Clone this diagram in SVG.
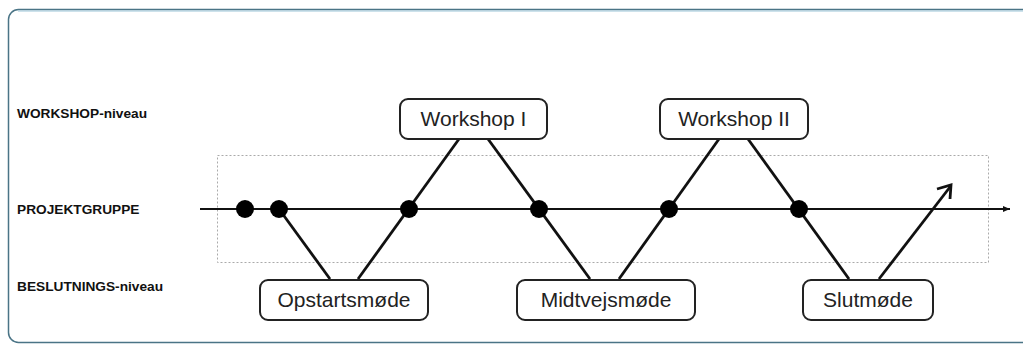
<svg xmlns="http://www.w3.org/2000/svg" width="1023" height="345" viewBox="0 0 1023 345">
<style>
.lvl{font-family:"Liberation Sans",Arial,sans-serif;font-weight:bold;font-size:13.7px;fill:#111}
.nb{fill:#fff;stroke:#222;stroke-width:2}
.nt{font-family:"Liberation Sans",Arial,sans-serif;font-size:21px;fill:#222;text-anchor:middle}
.diag{stroke:#111;stroke-width:2.8;fill:none;stroke-linecap:butt}
.dot{fill:#000}
</style>
<defs>
<marker id="tri" markerWidth="8" markerHeight="8" refX="7" refY="4" orient="auto" markerUnits="userSpaceOnUse">
<path d="M0,1 L7,4 L0,7 Z" fill="#111"/>
</marker>
</defs>
<rect x="0" y="0" width="1023" height="345" fill="#fff"/>
<rect x="8.5" y="9.5" width="1030" height="333" rx="10" fill="#fff" stroke="#4a7486" stroke-width="1.5"/>
<line x1="18" y1="11" x2="1023" y2="11" stroke="#9cc6d8" stroke-width="1"/>
<rect x="217.5" y="155.5" width="771" height="107" fill="none" stroke="#aaa" stroke-width="1" stroke-dasharray="2,2"/>
<g id="labels">
<text class="lvl" x="17" y="118">WORKSHOP-niveau</text>
<text class="lvl" x="17" y="214">PROJEKTGRUPPE</text>
<text class="lvl" x="17" y="291">BESLUTNINGS-niveau</text>
</g>
<g id="connectors">
<line x1="200" y1="209" x2="1010" y2="209" stroke="#111" stroke-width="2" marker-end="url(#tri)"/>
<line class="diag" x1="279" y1="209" x2="330" y2="279"/>
<line class="diag" x1="358" y1="279" x2="459" y2="139"/>
<line class="diag" x1="488" y1="139" x2="590" y2="279"/>
<line class="diag" x1="619" y1="279" x2="719" y2="139"/>
<line class="diag" x1="748" y1="139" x2="849" y2="279"/>
<line class="diag" x1="879" y1="279" x2="950" y2="187"/>
<path class="diag" d="M937,189 L951,185 L950,199"/>
</g>
<g id="dots">
<circle class="dot" cx="245" cy="209" r="9"/>
<circle class="dot" cx="279" cy="209" r="9"/>
<circle class="dot" cx="409" cy="209" r="9"/>
<circle class="dot" cx="539" cy="209" r="9"/>
<circle class="dot" cx="669" cy="209" r="9"/>
<circle class="dot" cx="799" cy="209" r="9"/>
</g>
<g id="workshop1">
<rect class="nb" x="400" y="99" width="147" height="40" rx="8"/>
<text class="nt" x="473.5" y="126">Workshop I</text>
</g>
<g id="workshop2">
<rect class="nb" x="660" y="99" width="148" height="40" rx="8"/>
<text class="nt" x="734" y="126">Workshop II</text>
</g>
<g id="opstartsmode">
<rect class="nb" x="260" y="280" width="168" height="40" rx="8"/>
<text class="nt" x="344" y="307">Opstartsmøde</text>
</g>
<g id="midtvejsmode">
<rect class="nb" x="517" y="280" width="178" height="40" rx="8"/>
<text class="nt" x="606" y="307">Midtvejsmøde</text>
</g>
<g id="slutmode">
<rect class="nb" x="803" y="280" width="130" height="40" rx="8"/>
<text class="nt" x="868" y="307">Slutmøde</text>
</g>
</svg>
